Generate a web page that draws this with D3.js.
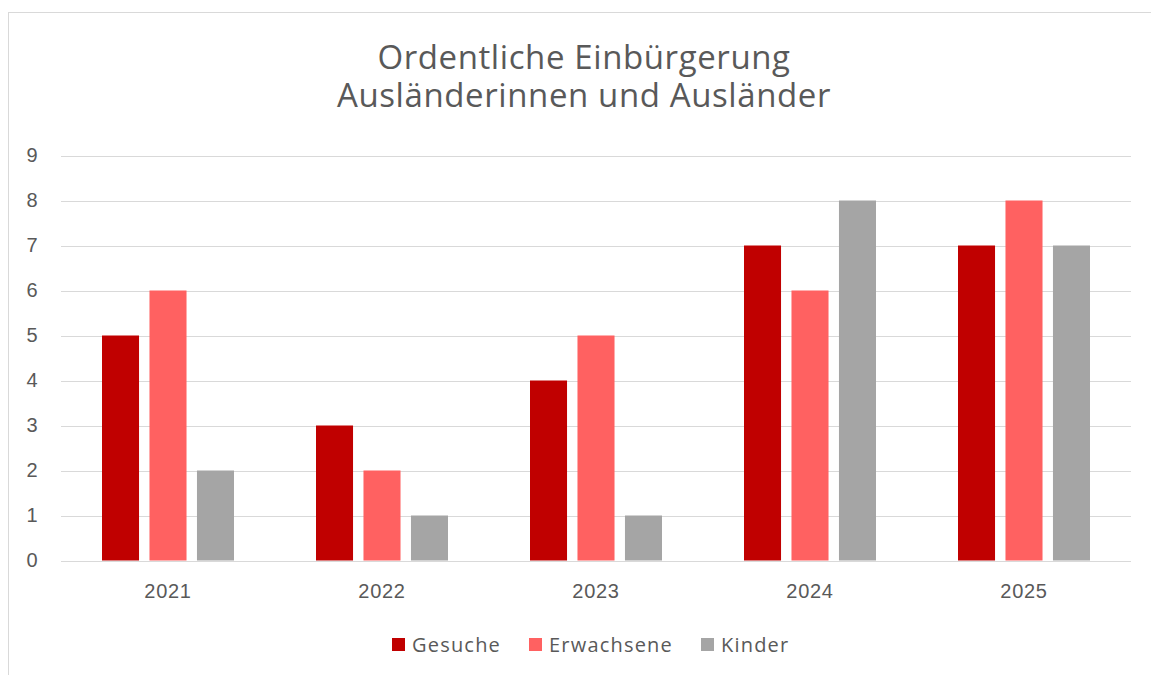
<!DOCTYPE html>
<meta charset="utf-8">
<title>Ordentliche Einbürgerung</title>
<style>
body {
  margin: 0;
  background: #fff;
}
svg {
  display: block;
  font-family: "Open Sans", "Liberation Sans", Arial, sans-serif;
}
.grid line {
  stroke: #d9d9d9;
  stroke-width: 1px;
}
.lbl {
  fill: #595959;
}
</style>
<svg></svg>
<script src="https://cdn.jsdelivr.net/npm/d3@7"></script>
<script>
// data
var years = ["2021", "2022", "2023", "2024", "2025"];
var series = ["Gesuche", "Erwachsene", "Kinder"];
var gesuche = [5, 3, 4, 7, 7];
var erwachsene = [6, 2, 5, 6, 8];
var kinder = [2, 1, 1, 8, 7];
var yTicks = [0, 1, 2, 3, 4, 5, 6, 7, 8, 9];
var titleLines = ["Ordentliche Einbürgerung", "Ausländerinnen und Ausländer"];
var colors = ["#c00000", "#ff6161", "#a5a5a5"];

var values = [gesuche, erwachsene, kinder];

var width = 1151,
    height = 675;

var svg = d3.select("svg")
    .attr("width", width)
    .attr("height", height);

// chart frame (only top and left edges are visible in the shot)
svg.append("rect")
    .attr("x", 8.5)
    .attr("y", 12.5)
    .attr("width", 1200)
    .attr("height", 700)
    .attr("fill", "#fff")
    .attr("stroke", "#d9d9d9");

var x0 = d3.scaleBand()
    .domain(years)
    .range([61, 1131]);

var x1 = d3.scaleBand()
    .domain(series)
    .range([41, x0.bandwidth() - 41])
    .paddingInner(0.22);

var y = d3.scaleLinear()
    .domain([0, 9])
    .range([560.5, 155.5]);

// title
svg.append("g").selectAll("text")
    .data(titleLines)
  .enter().append("text")
    .attr("class", "lbl")
    .attr("x", 584)
    .attr("y", function(d, i) { return 69 + i * 38; })
    .attr("text-anchor", "middle")
    .style("font-size", "33px")
    .style("letter-spacing", "0.6px")
    .text(function(d) { return d; });

// gridlines
svg.append("g")
    .attr("class", "grid")
  .selectAll("line")
    .data(yTicks)
  .enter().append("line")
    .attr("x1", 61)
    .attr("x2", 1131)
    .attr("y1", function(d) { return Math.round(y(d)) + 0.5; })
    .attr("y2", function(d) { return Math.round(y(d)) + 0.5; });

// y axis labels
var yAxis = svg.append("g")
    .attr("transform", "translate(39,0)")
    .call(d3.axisLeft(y).tickValues(yTicks).tickSize(0).tickPadding(0));
yAxis.select(".domain").remove();
yAxis.selectAll("text")
    .attr("class", "lbl")
    .attr("fill", null)
    .attr("text-anchor", "middle")
    .attr("x", -7)
    .style("font-size", "20px")
    .style("font-family", null);

// bars
var groups = svg.append("g").selectAll("g")
    .data(years)
  .enter().append("g")
    .attr("transform", function(d) { return "translate(" + x0(d) + ",0)"; });

groups.selectAll("rect")
    .data(function(d, i) {
      return series.map(function(s, j) { return {key: s, value: values[j][i], c: colors[j]}; });
    })
  .enter().append("rect")
    .attr("x", function(d) { return x1(d.key); })
    .attr("width", x1.bandwidth())
    .attr("y", function(d) { return y(d.value); })
    .attr("height", function(d) { return y(0) - y(d.value); })
    .attr("fill", function(d) { return d.c; });

// x axis labels
var xAxis = svg.append("g")
    .attr("transform", "translate(0,598)")
    .call(d3.axisBottom(x0).tickSize(0).tickPadding(0));
xAxis.select(".domain").remove();
xAxis.selectAll("text")
    .attr("class", "lbl")
    .attr("fill", null)
    .attr("dy", 0)
    .style("font-size", "20px")
    .style("letter-spacing", "0.7px")
    .style("font-family", null);

// legend
var legendX = [392, 529, 701];
var legend = svg.append("g").selectAll("g")
    .data(series)
  .enter().append("g")
    .attr("transform", function(d, i) { return "translate(" + legendX[i] + ",638)"; });

legend.append("rect")
    .attr("width", 13)
    .attr("height", 13)
    .attr("fill", function(d, i) { return colors[i]; });

legend.append("text")
    .attr("class", "lbl")
    .attr("x", 20)
    .attr("y", 14)
    .style("font-size", "20px")
    .style("letter-spacing", "1.2px")
    .text(function(d) { return d; });
</script>
